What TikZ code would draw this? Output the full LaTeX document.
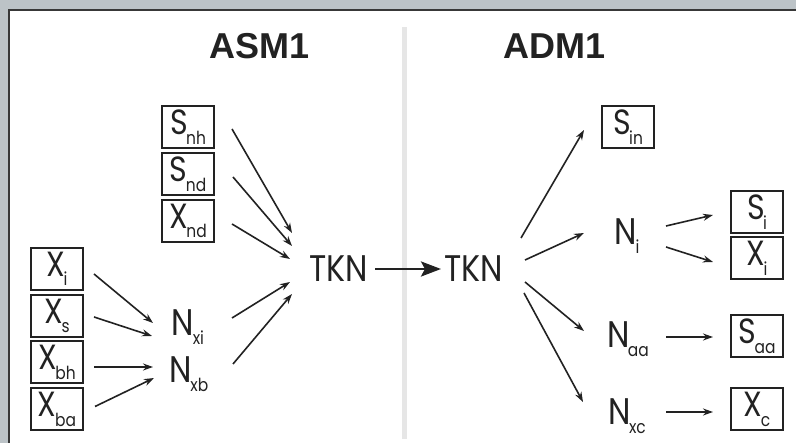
\documentclass[tikz,border=0pt]{standalone}
\usepackage{fontspec}
\setmainfont{Liberation Sans}
\newfontfamily\labfont{Poppins}[FakeStretch=0.86]
\newfontfamily\titlefont{Liberation Sans}
\usetikzlibrary{arrows.meta}
\definecolor{ink}{HTML}{222222}
\definecolor{outside}{HTML}{BCC3C7}
\definecolor{divider}{HTML}{E6E6E6}
\newcommand\lab[2]{{\labfont\fontsize{35}{35}\selectfont #1}\kern-1.5pt{\labfont\fontsize{18}{18}\selectfont\raisebox{-9.5pt}{#2}}}
\newcommand\nlab[2]{{\labfont\fontsize{37}{37}\selectfont #1}\kern-1.5pt{\labfont\fontsize{18}{18}\selectfont\raisebox{-9.5pt}{#2}}}
\tikzset{
  varbox/.style={draw=ink, line width=2pt, minimum width=52pt, minimum height=42pt, inner sep=0pt, text=ink},
  plain/.style={inner sep=0pt, text=ink},
  arr/.style={draw=ink, line width=1.6pt, -{Stealth[length=10pt,width=7pt]}},
  bigarr/.style={draw=ink, line width=2.8pt, -{Stealth[length=20pt,width=15pt,inset=4pt]}},
  ttl/.style={inner sep=0pt, text=ink, font=\titlefont\bfseries\fontsize{36}{36}\selectfont}
}
\begin{document}
\begin{tikzpicture}[x=1pt,y=-1pt]
\useasboundingbox (0,0) rectangle (796,443);
\fill[outside] (0,0) rectangle (796,443);
\fill[white] (9,10) rectangle (800,450);
\draw[ink!90, line width=2pt] (9,450) -- (9,10) -- (800,10);
\fill[divider] (402,27) rectangle (407,439);

\node[ttl] (asm) at (260,46) {ASM1};
\node[ttl] (adm) at (554.5,46) {ADM1};

% ASM1 state variables
\node[varbox] (Snh) at (188,127) {\lab{S}{nh}};
\node[varbox] (Snd) at (188,174) {\lab{S}{nd}};
\node[varbox] (Xnd) at (188,221) {\lab{X}{nd}};
\node[varbox] (Xi)  at (57,269) {\lab{X}{i}};
\node[varbox] (Xs)  at (57,316) {\lab{X}{s}};
\node[varbox] (Xbh) at (57,362.5) {\lab{X}{bh}};
\node[varbox] (Xba) at (57,409.5) {\lab{X}{ba}};

\node[plain] (Nxi) at (188,327) {\nlab{N}{xi}};
\node[plain] (Nxb) at (189,374) {\nlab{N}{xb}};

\node[plain] (TKNa) at (339,269) {\labfont\fontsize{37}{37}\selectfont TKN};
\node[plain] (TKNb) at (474,269) {\labfont\fontsize{37}{37}\selectfont TKN};

% ADM1
\node[varbox] (Sin) at (628,127) {\lab{S}{in}};
\node[varbox] (Si)  at (757,212) {\lab{S}{i}};
\node[varbox] (Xi2) at (757,258.5) {\lab{X}{i}};
\node[varbox] (Saa) at (757,336) {\lab{S}{aa}};
\node[varbox] (Xc)  at (757,409.5) {\lab{X}{c}};

\node[plain] (Ni)  at (627,236) {\nlab{N}{i}};
\node[plain] (Naa) at (628,339) {\nlab{N}{aa}};
\node[plain] (Nxc) at (627,416) {\nlab{N}{xc}};

% arrows into TKN (ASM1)
\draw[arr] ([shift={(44,2)}]Snh.center) -- ([shift={(-47,-36)}]TKNa.center);
\draw[arr] ([shift={(45,3)}]Snd.center) -- ([shift={(-47,-23)}]TKNa.center);
\draw[arr] ([shift={(44,3)}]Xnd.center) -- ([shift={(-49,-10)}]TKNa.center);
\draw[arr] ([shift={(44,-9)}]Nxi.center) -- ([shift={(-49,13)}]TKNa.center);
\draw[arr] ([shift={(44,-10)}]Nxb.center) -- ([shift={(-47,25)}]TKNa.center);

\draw[arr] ([shift={(37,5)}]Xi.center) -- ([shift={(-35,-4)}]Nxi.center);
\draw[arr] ([shift={(37,1)}]Xs.center) -- ([shift={(-36,9)}]Nxi.center);
\draw[arr] ([shift={(37,4.5)}]Xbh.center) -- ([shift={(-36,-7)}]Nxb.center);
\draw[arr] ([shift={(38,-3)}]Xba.center) -- ([shift={(-35,4)}]Nxb.center);

% TKN -> TKN
\draw[bigarr] ([shift={(36,0)}]TKNa.center) -- ([shift={(-33,0)}]TKNb.center);

% ADM1 arrows
\draw[arr] ([shift={(47,-31)}]TKNb.center) -- ([shift={(-44,3)}]Sin.center);
\draw[arr] ([shift={(51,-9)}]TKNb.center) -- ([shift={(-43,-3)}]Ni.center);
\draw[arr] ([shift={(51,13)}]TKNb.center) -- ([shift={(-44,-8)}]Naa.center);
\draw[arr] ([shift={(50,24)}]TKNb.center) -- ([shift={(-44,-14)}]Nxc.center);

\draw[arr] ([shift={(39,-10)}]Ni.center) -- ([shift={(-44,3)}]Si.center);
\draw[arr] ([shift={(39,11)}]Ni.center) -- ([shift={(-44,3.5)}]Xi2.center);
\draw[arr] ([shift={(38,-2)}]Naa.center) -- ([shift={(-44,1)}]Saa.center);
\draw[arr] ([shift={(39,-4)}]Nxc.center) -- ([shift={(-44,2.5)}]Xc.center);
\end{tikzpicture}
\end{document}
